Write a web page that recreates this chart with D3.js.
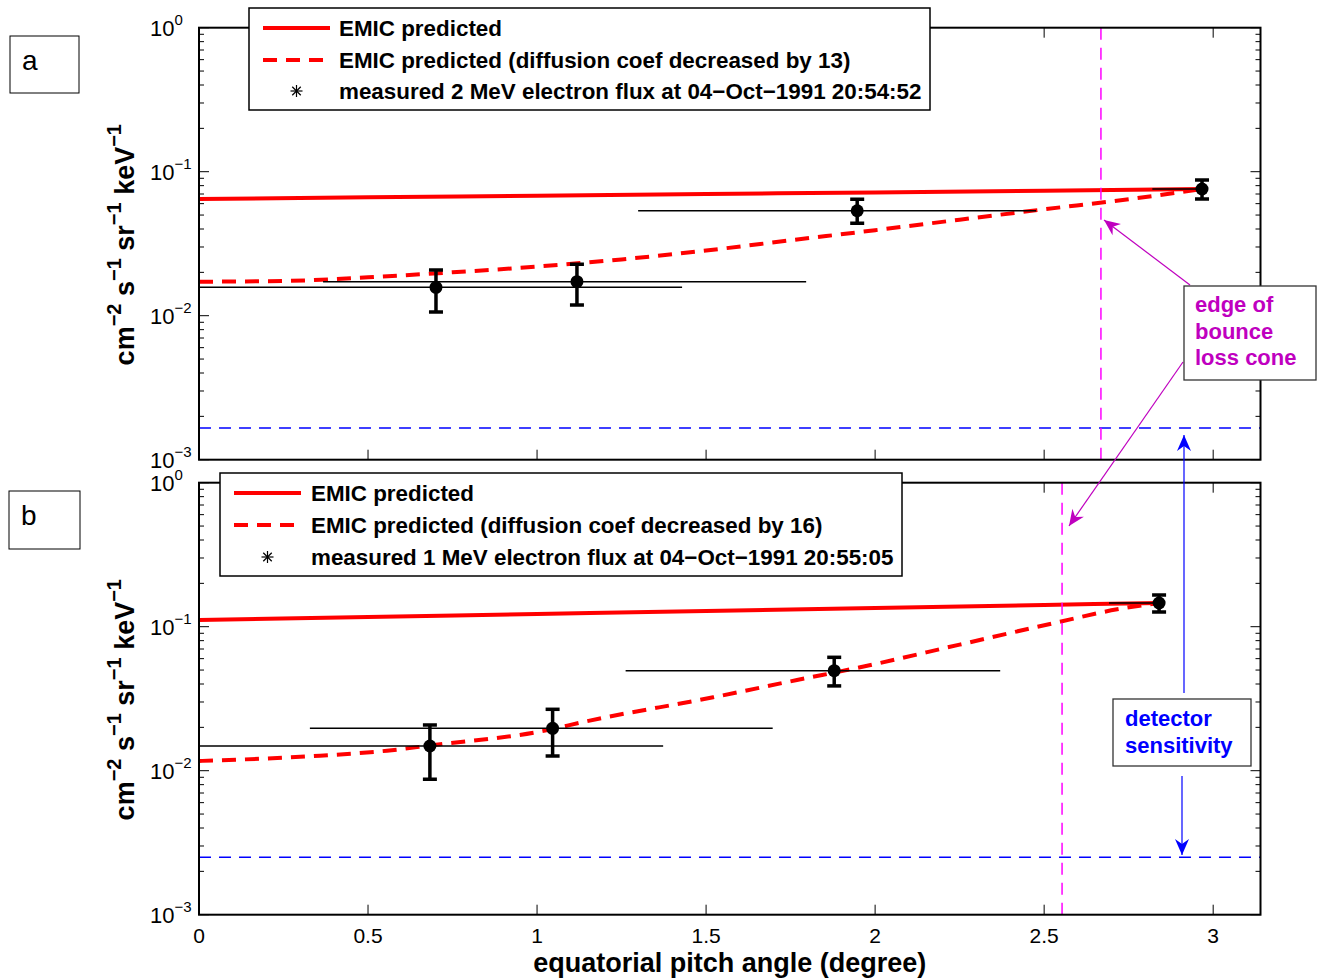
<!DOCTYPE html>
<html>
<head>
<meta charset="utf-8">
<script src="https://cdn.jsdelivr.net/npm/d3@7"></script>
<style>
  html, body { margin: 0; padding: 0; background: #fff; }
  svg { display: block; font-family: "Liberation Sans", Arial, Helvetica, sans-serif; }
</style>
</head>
<body>
<svg id="fig" width="1323" height="979"></svg>
<script>
// ---------- data ----------
const xTickValues = [0, 0.5, 1, 1.5, 2, 2.5, 3];
const xTickLabels = ["0", "0.5", "1", "1.5", "2", "2.5", "3"];
const yDecades = [-3, -2, -1, 0];
const yDecadeLabels = ["\u22123", "\u22122", "\u22121", "0"];

// panel a: 2 MeV
const aSolidX = [0, 0.5, 1, 1.5, 2, 2.5, 2.967];
const aSolidY = [0.0646, 0.0664, 0.0682, 0.0700, 0.0718, 0.0738, 0.0758];
const aDashX = [0, 0.25, 0.5, 0.75, 1.0, 1.25, 1.5, 1.75, 2.0, 2.25, 2.5, 2.75, 2.967];
const aDashY = [0.01722, 0.01742, 0.01848, 0.02001, 0.02193, 0.0246, 0.02836, 0.0334, 0.03925, 0.04642, 0.05482, 0.06442, 0.0758];
const aPtX = [0.701, 1.118, 1.947, 2.967];
const aPtY = [0.01574, 0.01722, 0.05358, 0.0758];
const aErrLo = [0.01061, 0.01187, 0.04383, 0.0646];
const aErrHi = [0.02076, 0.02275, 0.0643, 0.0875];
const aSpanLo = [0, 0.367, 1.299, 2.82];
const aSpanHi = [1.429, 1.796, 2.476, 2.975];
const aSensitivity = 0.00166;
const aConeEdge = 2.668;
const aLegend = ["EMIC predicted",
  "EMIC predicted (diffusion coef decreased by 13)",
  "measured 2 MeV electron flux at 04\u2212Oct\u22121991 20:54:52"];

// panel b: 1 MeV
const bSolidX = [0, 0.5, 1, 1.5, 2, 2.5, 2.84];
const bSolidY = [0.1113, 0.1168, 0.1225, 0.1285, 0.1349, 0.1415, 0.1461];
const bDashX = [0, 0.358, 0.556, 0.683, 1.047, 1.127, 1.521, 1.769, 1.956, 2.25, 2.547, 2.716, 2.84];
const bDashY = [0.01168, 0.01271, 0.01377, 0.01496, 0.01948, 0.02154, 0.03233, 0.04264, 0.05224, 0.0751, 0.1083, 0.132, 0.1461];
const bPtX = [0.683, 1.046, 1.879, 2.84];
const bPtY = [0.01485, 0.01969, 0.0495, 0.1461];
const bErrLo = [0.00871, 0.01265, 0.0388, 0.1265];
const bErrHi = [0.02077, 0.02669, 0.0613, 0.166];
const bSpanLo = [0, 0.328, 1.262, 2.692];
const bSpanHi = [1.373, 1.697, 2.37, 2.848];
const bSensitivity = 0.002506;
const bConeEdge = 2.553;
const bLegend = ["EMIC predicted",
  "EMIC predicted (diffusion coef decreased by 16)",
  "measured 1 MeV electron flux at 04\u2212Oct\u22121991 20:55:05"];

// ---------- layout ----------
const svg = d3.select("#fig");
const plotLeft = 199, plotRight = 1260.5;
const xDomain = [0, 3.14];
const RED = "#ff0000", MAG = "#ff00ff", MAGTXT = "#bf00bf", BLUE = "#0000ff";

const panels = [
  { top: 27.7, bottom: 459.7, letter: "a", letterBox: [10, 36, 69, 57], showX: false,
    legendBox: [249, 8, 681, 102], legendLineX: [263, 330], legendRows: [28, 60, 91], legendTextX: 339,
    solidX: aSolidX, solidY: aSolidY, dashX: aDashX, dashY: aDashY,
    ptX: aPtX, ptY: aPtY, errLo: aErrLo, errHi: aErrHi, spanLo: aSpanLo, spanHi: aSpanHi,
    sens: aSensitivity, edge: aConeEdge, legend: aLegend },
  { top: 482.7, bottom: 914.7, letter: "b", letterBox: [9, 491, 71, 58], showX: true,
    legendBox: [220, 473, 682, 103], legendLineX: [234, 301], legendRows: [493, 525, 557], legendTextX: 311,
    solidX: bSolidX, solidY: bSolidY, dashX: bDashX, dashY: bDashY,
    ptX: bPtX, ptY: bPtY, errLo: bErrLo, errHi: bErrHi, spanLo: bSpanLo, spanHi: bSpanHi,
    sens: bSensitivity, edge: bConeEdge, legend: bLegend }
];

// text made of [base, exponent] pairs, exponents raised as superscripts
function supText(textSel, pairs, supSize, rise) {
  let raised = false;
  pairs.forEach(([b, e]) => {
    const bt = textSel.append("tspan").text(b);
    if (raised) { bt.attr("dy", rise); raised = false; }
    if (e) {
      textSel.append("tspan").attr("dy", -rise).attr("font-size", supSize).text(e);
      raised = true;
    }
  });
}

panels.forEach(p => {
  const x = d3.scaleLinear().domain(xDomain).range([plotLeft, plotRight]);
  const y = d3.scaleLog().domain([1e-3, 1]).range([p.bottom, p.top]);
  const g = svg.append("g");

  const clipId = "clip-" + p.letter;
  svg.append("defs").append("clipPath").attr("id", clipId)
    .append("rect").attr("x", plotLeft).attr("y", p.top)
    .attr("width", plotRight - plotLeft).attr("height", p.bottom - p.top);
  const plot = g.append("g").attr("clip-path", `url(#${clipId})`);

  // model curves
  const line = d3.line().x(d => x(d[0])).y(d => y(d[1])).curve(d3.curveMonotoneX);
  plot.append("path").datum(d3.zip(p.solidX, p.solidY)).attr("d", line)
    .attr("fill", "none").attr("stroke", RED).attr("stroke-width", 4);
  plot.append("path").datum(d3.zip(p.dashX, p.dashY)).attr("d", line)
    .attr("fill", "none").attr("stroke", RED).attr("stroke-width", 4)
    .attr("stroke-dasharray", "14,9");

  // pitch-angle spans of each measurement
  plot.selectAll("line.span").data(d3.range(p.ptX.length)).join("line")
    .attr("x1", i => x(p.spanLo[i])).attr("x2", i => x(p.spanHi[i]))
    .attr("y1", i => y(p.ptY[i])).attr("y2", i => y(p.ptY[i]))
    .attr("stroke", "#000").attr("stroke-width", 1.5);

  // detector sensitivity and loss cone edge
  plot.append("line").attr("x1", plotLeft).attr("x2", plotRight)
    .attr("y1", y(p.sens)).attr("y2", y(p.sens))
    .attr("stroke", BLUE).attr("stroke-width", 1.5).attr("stroke-dasharray", "12,8");
  plot.append("line").attr("x1", x(p.edge)).attr("x2", x(p.edge))
    .attr("y1", p.top).attr("y2", p.bottom)
    .attr("stroke", MAG).attr("stroke-width", 1.5).attr("stroke-dasharray", "12,8");

  // error bars and markers
  const eb = plot.selectAll("g.eb").data(d3.range(p.ptX.length)).join("g");
  eb.append("line").attr("x1", i => x(p.ptX[i])).attr("x2", i => x(p.ptX[i]))
    .attr("y1", i => y(p.errLo[i])).attr("y2", i => y(p.errHi[i]))
    .attr("stroke", "#000").attr("stroke-width", 3.5);
  [p.errLo, p.errHi].forEach(arr => {
    eb.append("line").attr("x1", i => x(p.ptX[i]) - 7).attr("x2", i => x(p.ptX[i]) + 7)
      .attr("y1", i => y(arr[i])).attr("y2", i => y(arr[i]))
      .attr("stroke", "#000").attr("stroke-width", 3.5);
  });
  eb.append("circle").attr("cx", i => x(p.ptX[i])).attr("cy", i => y(p.ptY[i]))
    .attr("r", 6.5).attr("fill", "#000");

  // axes box and ticks
  const axisG = g.append("g");
  axisG.append("rect").attr("x", plotLeft).attr("y", p.top)
    .attr("width", plotRight - plotLeft).attr("height", p.bottom - p.top)
    .attr("fill", "none").attr("stroke", "#000").attr("stroke-width", 2);
  xTickValues.forEach(v => {
    axisG.append("line").attr("x1", x(v)).attr("x2", x(v)).attr("y1", p.bottom).attr("y2", p.bottom - 10)
      .attr("stroke", "#000").attr("stroke-width", 1);
    axisG.append("line").attr("x1", x(v)).attr("x2", x(v)).attr("y1", p.top).attr("y2", p.top + 10)
      .attr("stroke", "#000").attr("stroke-width", 1);
  });
  yDecades.forEach((d, di) => {
    const yy = y(Math.pow(10, d));
    [[plotLeft, 10], [plotRight, -10]].forEach(([x0, len]) => {
      axisG.append("line").attr("x1", x0).attr("x2", x0 + len).attr("y1", yy).attr("y2", yy)
        .attr("stroke", "#000").attr("stroke-width", 1);
    });
    if (d < 0) {
      for (let m = 2; m <= 9; m++) {
        const ym = y(m * Math.pow(10, d));
        [[plotLeft, 5], [plotRight, -5]].forEach(([x0, len]) => {
          axisG.append("line").attr("x1", x0).attr("x2", x0 + len).attr("y1", ym).attr("y2", ym)
            .attr("stroke", "#000").attr("stroke-width", 1);
        });
      }
    }
    const t = axisG.append("text").attr("x", 150).attr("y", yy + 8)
      .attr("font-size", 22).attr("fill", "#000");
    supText(t, [["10", yDecadeLabels[di]]], 15, 11);
  });
  if (p.showX) {
    xTickValues.forEach((v, i) => {
      axisG.append("text").attr("x", x(v)).attr("y", p.bottom + 28)
        .attr("text-anchor", "middle").attr("font-size", 21).text(xTickLabels[i]);
    });
    axisG.append("text").attr("x", (plotLeft + plotRight) / 2).attr("y", p.bottom + 57)
      .attr("text-anchor", "middle").attr("font-size", 27).attr("font-weight", "bold")
      .text("equatorial pitch angle (degree)");
  }

  // y label
  const yl = axisG.append("text")
    .attr("transform", `translate(134,${(p.top + p.bottom) / 2 + 1}) rotate(-90)`)
    .attr("text-anchor", "middle").attr("font-size", 27).attr("font-weight", "bold");
  supText(yl, [["cm", "\u22122"], [" s", "\u22121"], [" sr", "\u22121"], [" keV", "\u22121"]], 20, 13);

  // legend
  const lg = g.append("g");
  const [lx, ly, lw, lh] = p.legendBox;
  lg.append("rect").attr("x", lx).attr("y", ly).attr("width", lw).attr("height", lh)
    .attr("fill", "#fff").attr("stroke", "#000").attr("stroke-width", 1.5);
  lg.append("line").attr("x1", p.legendLineX[0]).attr("x2", p.legendLineX[1])
    .attr("y1", p.legendRows[0]).attr("y2", p.legendRows[0])
    .attr("stroke", RED).attr("stroke-width", 4);
  lg.append("line").attr("x1", p.legendLineX[0]).attr("x2", p.legendLineX[1])
    .attr("y1", p.legendRows[1]).attr("y2", p.legendRows[1])
    .attr("stroke", RED).attr("stroke-width", 4).attr("stroke-dasharray", "14,9");
  const sx = (p.legendLineX[0] + p.legendLineX[1]) / 2, sy = p.legendRows[2], r = 6;
  [0, 45, 90, 135].forEach(a => {
    const rad = a * Math.PI / 180;
    lg.append("line").attr("x1", sx - r * Math.cos(rad)).attr("x2", sx + r * Math.cos(rad))
      .attr("y1", sy - r * Math.sin(rad)).attr("y2", sy + r * Math.sin(rad))
      .attr("stroke", "#000").attr("stroke-width", 1.2);
  });
  p.legend.forEach((txt, i) => {
    lg.append("text").attr("x", p.legendTextX).attr("y", p.legendRows[i] + 8)
      .attr("font-size", 22.4).attr("font-weight", "bold").text(txt);
  });

  // panel letter
  const [bx, by, bw, bh] = p.letterBox;
  g.append("rect").attr("x", bx).attr("y", by).attr("width", bw).attr("height", bh)
    .attr("fill", "#fff").attr("stroke", "#000").attr("stroke-width", 1);
  g.append("text").attr("x", bx + 12).attr("y", by + 34).attr("font-size", 28).text(p.letter);
});

// ---------- annotations ----------
function arrow(x1, y1, x2, y2, color) {
  const a = svg.append("g");
  a.append("line").attr("x1", x1).attr("y1", y1).attr("x2", x2).attr("y2", y2)
    .attr("stroke", color).attr("stroke-width", 1.2);
  const ang = Math.atan2(y2 - y1, x2 - x1);
  const L = 16, W = 7, N = 11;
  const pt = (d, w) => [x2 - d * Math.cos(ang) - w * Math.sin(ang), y2 - d * Math.sin(ang) + w * Math.cos(ang)];
  const pts = [[x2, y2], pt(L, W), pt(N, 0), pt(L, -W)];
  a.append("path").attr("d", "M" + pts.map(q => q.join(",")).join("L") + "Z").attr("fill", color);
}
function noteBox(x0, y0, w, h, lines, color, tx, ty0, dy) {
  svg.append("rect").attr("x", x0).attr("y", y0).attr("width", w).attr("height", h)
    .attr("fill", "#fff").attr("stroke", "#333").attr("stroke-width", 1.3);
  lines.forEach((s, i) => {
    svg.append("text").attr("x", tx).attr("y", ty0 + i * dy).attr("font-size", 22)
      .attr("font-weight", "bold").attr("fill", color).text(s);
  });
}
// loss cone edge
arrow(1190, 285, 1104, 220, MAGTXT);
arrow(1183, 362, 1069, 526, MAGTXT);
noteBox(1184, 286, 132, 94, ["edge of", "bounce", "loss cone"], MAGTXT, 1195, 312, 26.5);
// detector sensitivity
arrow(1184, 693, 1184, 435, BLUE);
arrow(1182, 776, 1182, 855, BLUE);
noteBox(1113, 699, 138, 67, ["detector", "sensitivity"], BLUE, 1125, 726, 27);
</script>
</body>
</html>
